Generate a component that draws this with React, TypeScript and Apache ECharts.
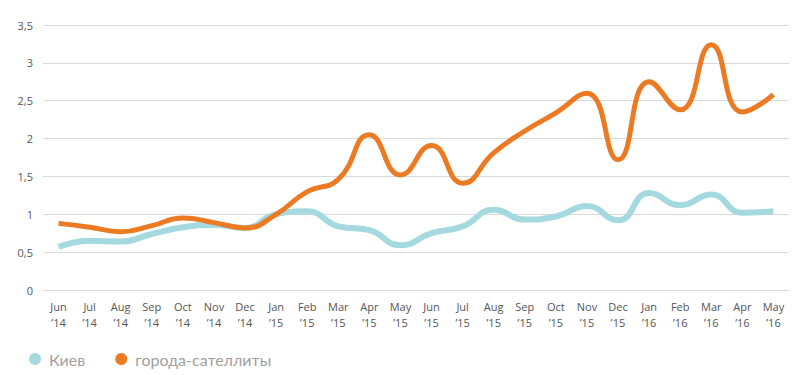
import React, { useEffect, useRef } from "react";
import * as echarts from "echarts";

const months = ["Jun", "Jul", "Aug", "Sep", "Oct", "Nov", "Dec", "Jan", "Feb", "Mar", "Apr", "May", "Jun", "Jul", "Aug", "Sep", "Oct", "Nov", "Dec", "Jan", "Feb", "Mar", "Apr", "May"];
const years = ["14", "14", "14", "14", "14", "14", "14", "15", "15", "15", "15", "15", "15", "15", "15", "15", "15", "15", "15", "16", "16", "16", "16", "16"];
const categories = months.map((m, i) => `${m}\n\u2019${years[i]}`);

const kyiv = [0.57, 0.65, 0.64, 0.74, 0.83, 0.86, 0.82, 1.0, 1.04, 0.84, 0.79, 0.59, 0.75, 0.84, 1.06, 0.93, 0.97, 1.11, 0.92, 1.28, 1.12, 1.26, 1.02, 1.04];
const satellites = [0.88, 0.83, 0.77, 0.85, 0.95, 0.89, 0.82, 1.0, 1.3, 1.46, 2.05, 1.52, 1.91, 1.41, 1.81, 2.1, 2.34, 2.6, 1.72, 2.75, 2.38, 3.24, 2.35, 2.58];

const seriesNames = ["Киев", "города-сателлиты"];

export default function App() {
  const ref = useRef<HTMLDivElement>(null);
  useEffect(() => {
    const chart = echarts.init(ref.current!, null, { renderer: "svg" });
    chart.setOption({
      animation: false,
      grid: { left: 43, right: 14, top: 25, bottom: 85 },
      legend: {
        left: 24,
        bottom: 3,
        icon: "circle",
        itemWidth: 12,
        itemHeight: 12,
        itemGap: 30,
        textStyle: { color: "#a0a0a0", fontSize: 16, fontFamily: "Lato", padding: [0, 0, 0, 3] },
        data: seriesNames,
      },
      xAxis: {
        type: "category",
        data: categories,
        boundaryGap: true,
        axisLine: { lineStyle: { color: "#d9d9d9" } },
        axisTick: { show: false },
        axisLabel: {
          color: "#555",
          fontSize: 11,
          fontFamily: "Open Sans",
          lineHeight: 16,
          margin: 8,
          interval: 0,
        },
      },
      yAxis: {
        type: "value",
        min: 0,
        max: 3.5,
        interval: 0.5,
        axisLine: { show: false },
        axisTick: { show: false },
        splitLine: { lineStyle: { color: "#d9d9d9" } },
        axisLabel: {
          color: "#555",
          fontSize: 11,
          fontFamily: "Open Sans",
          margin: 10,
          formatter: (v: number) => String(v).replace(".", ","),
        },
      },
      series: [
        {
          name: seriesNames[0],
          type: "line",
          data: kyiv,
          smooth: 0.5,
          showSymbol: false,
          symbol: "circle",
          lineStyle: { color: "#a3d9df", width: 6 },
          itemStyle: { color: "#a3d9df" },
        },
        {
          name: seriesNames[1],
          type: "line",
          data: satellites,
          smooth: 0.5,
          showSymbol: false,
          symbol: "circle",
          lineStyle: { color: "#ec7a23", width: 5 },
          itemStyle: { color: "#ec7a23" },
        },
      ],
    });
    return () => chart.dispose();
  }, []);
  return <div ref={ref} style={{ width: 803, height: 375, position: "absolute", left: 0, top: 0 }} />;
}
